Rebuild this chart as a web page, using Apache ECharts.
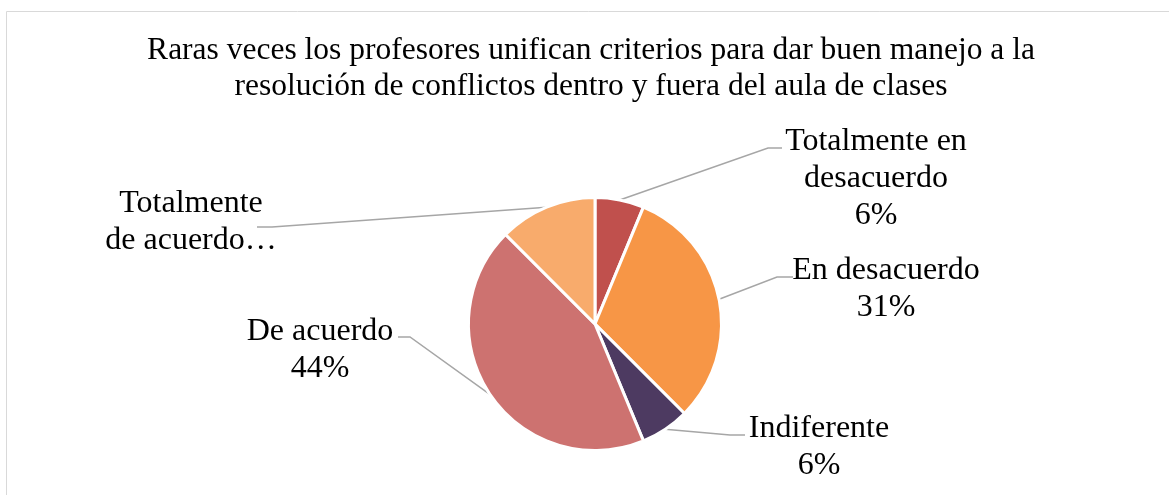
<!DOCTYPE html>
<html>
<head>
<meta charset="utf-8">
<script src="https://cdn.jsdelivr.net/npm/echarts@6/dist/echarts.min.js"></script>
<style>
  html, body { margin: 0; padding: 0; background: #fff; }
  #chart { width: 1169px; height: 495px; }
</style>
</head>
<body>
<div id="chart"></div>
<script>
// datos
const categories = ['Totalmente en desacuerdo', 'En desacuerdo', 'Indiferente', 'De acuerdo', 'Totalmente de acuerdo']
const values = [1, 5, 1, 7, 2]
// texto de las etiquetas (como en el original, la última viene cortada)
const labelTexts = ['Totalmente en\ndesacuerdo', 'En desacuerdo', 'Indiferente', 'De acuerdo', 'Totalmente\nde acuerdo…']
const colors = ['#c0504d', '#f79646', '#4d3a61', '#cd7270', '#f8ab6c']

// posicion de cada etiqueta (centro x, top y) y codo de la linea guia
const labelPos = [[876, 123], [886, 252], [819, 410], [320, 313], [191, 185]]
const elbows = [[[768, 148], [782, 148]], [[777, 277], [793, 277]], [[730, 435], [745, 435]], [[410, 337], [398, 337]], [[272, 227], [257, 227]]]

const fontFamily = '"Liberation Serif", "Times New Roman", serif'

let myChart = echarts.init(document.getElementById('chart'))

let option = {
    animation: false,
    title: {
        text: 'Raras veces los profesores unifican criterios para dar buen manejo a la\nresolución de conflictos dentro y fuera del aula de clases',
        left: 591,
        top: 33,
        padding: 0,
        textAlign: 'center',
        textStyle: {
            fontFamily: fontFamily,
            fontSize: 31.5,
            lineHeight: 36,
            fontWeight: 'normal',
            color: '#000'
        }
    },
    graphic: [{
        type: 'rect',
        silent: true,
        shape: { x: 6.5, y: 11.5, width: 1200, height: 600 },
        style: { fill: 'none', stroke: '#d9d9d9', lineWidth: 1 }
    }],
    series: [{
        type: 'pie',
        center: [595, 324],
        radius: 126.5,
        startAngle: 90,
        clockwise: true,
        avoidLabelOverlap: false,
        itemStyle: {
            borderColor: '#fff',
            borderWidth: 3
        },
        label: {
            show: true,
            position: 'outside',
            fontFamily: fontFamily,
            fontSize: 32,
            lineHeight: 37,
            color: '#000',
            align: 'center',
            formatter: (p) => {
                let t = labelTexts[p.dataIndex]
                if (t.endsWith('…')) return t
                return t + '\n' + Math.round(p.percent) + '%'
            }
        },
        labelLine: {
            show: true,
            lineStyle: { color: '#a6a6a6', width: 1.5 }
        },
        labelLayout: (params) => {
            let i = params.dataIndex
            let start = params.labelLinePoints ? params.labelLinePoints[0] : [0, 0]
            return {
                x: labelPos[i][0],
                y: labelPos[i][1],
                align: 'center',
                verticalAlign: 'top',
                labelLinePoints: [start, elbows[i][0], elbows[i][1]]
            }
        },
        data: categories.map((c, i) => ({
            name: c,
            value: values[i],
            itemStyle: { color: colors[i] }
        }))
    }]
}

myChart.setOption(option)
</script>
</body>
</html>
